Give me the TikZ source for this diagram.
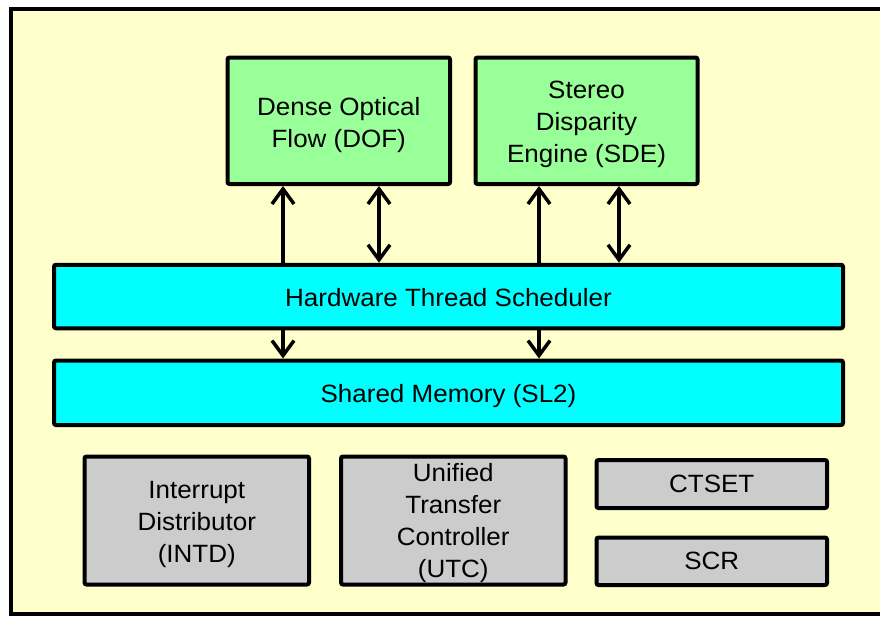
\documentclass[tikz,border=0pt]{standalone}
\usepackage{fontspec}
\setmainfont{Liberation Sans}[FakeStretch=1.04]
\usetikzlibrary{arrows.meta}
\definecolor{bgy}{HTML}{FFFFCC}
\definecolor{grn}{HTML}{99FF99}
\definecolor{cyn}{HTML}{00FFFF}
\definecolor{gry}{HTML}{CCCCCC}
\begin{document}
\begin{tikzpicture}[x=1pt,y=-1pt,
  box/.style={draw=black, line width=4pt, rounded corners=2pt, inner sep=0pt},
  greenbox/.style={box, fill=grn},
  cyanbox/.style={box, fill=cyn},
  graybox/.style={box, fill=gry},
  txt/.style={inner sep=0pt, align=center, font=\fontsize{25}{32}\selectfont},
  tipb/.tip={Straight Barb[length=15pt,width=22pt]},
  uarr/.style={line width=3.5pt, -tipb},
  darr/.style={line width=3.5pt, tipb-tipb}]
\useasboundingbox (0,0) rectangle (880,616);
\clip (0,0) rectangle (880,616);
\fill[white] (0,0) rectangle (880,616);
\draw[line width=4pt, fill=bgy] (11,9) rectangle (900,614);

\node[greenbox, minimum width=222.5, minimum height=126.5] (dof) at (338.75,120.75) {};
\node[greenbox, minimum width=222, minimum height=126.5] (sde) at (586.5,120.75) {};
\node[cyanbox, minimum width=789, minimum height=63.5] (hts) at (448.5,296.5) {};
\node[cyanbox, minimum width=789, minimum height=64.5] (sl2) at (448.5,392.75) {};
\node[graybox, minimum width=224.5, minimum height=128] (intd) at (196.75,520.5) {};
\node[graybox, minimum width=224.5, minimum height=128] (utc) at (453.25,520.5) {};
\node[graybox, minimum width=230.5, minimum height=48] (ctset) at (711.75,484) {};
\node[graybox, minimum width=230.5, minimum height=47.5] (scr) at (711.75,561.25) {};

\node[txt] (doft) at ([yshift=-4pt]dof.center) {Dense Optical\\Flow (DOF)};
\node[txt] (sdet) at ([yshift=-4pt]sde.center) {Stereo\\Disparity\\Engine (SDE)};
\node[txt] (htst) at ([yshift=-1pt]hts.center) {Hardware Thread Scheduler};
\node[txt] (sl2t) at ([yshift=-3.5pt]sl2.center) {Shared Memory (SL2)};
\node[txt] (intdt) at ([yshift=-4pt]intd.center) {Interrupt\\Distributor\\(INTD)};
\node[txt] (utct) at ([yshift=-3pt]utc.center) {Unified\\Transfer\\Controller\\(UTC)};
\node[txt] (ctsett) at (ctset.center) {CTSET};
\node[txt] (scrt) at (scr.center) {SCR};

\coordinate (c1) at (283,0);
\coordinate (c2) at (379,0);
\coordinate (c3) at (539,0);
\coordinate (c4) at (619,0);

\draw[uarr] (hts.north -| c1) -- (dof.south -| c1);
\draw[darr] (hts.north -| c2) -- (dof.south -| c2);
\draw[uarr] (hts.north -| c3) -- (sde.south -| c3);
\draw[darr] (hts.north -| c4) -- (sde.south -| c4);
\draw[uarr] (hts.south -| c1) -- (sl2.north -| c1);
\draw[uarr] (hts.south -| c3) -- (sl2.north -| c3);
\end{tikzpicture}
\end{document}
